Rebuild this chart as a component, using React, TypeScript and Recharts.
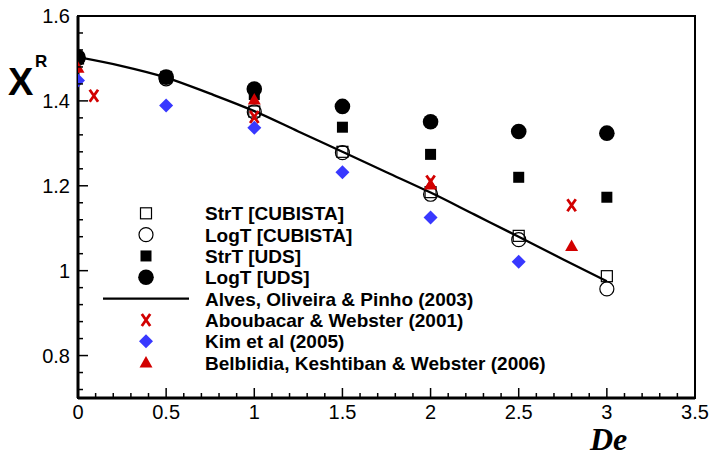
import { ComposedChart, Line, ReferenceArea, Scatter, XAxis, YAxis } from "recharts";

// Deborah numbers used by the simulations
const deValues = [0, 0.5, 1, 1.5, 2, 2.5, 3];
const strtCubista = [1.5, 1.455, 1.375, 1.28, 1.185, 1.082, 0.987];
const logtCubista = [1.5, 1.452, 1.374, 1.278, 1.18, 1.073, 0.957];
const strtUds = [1.5, 1.458, 1.415, 1.338, 1.274, 1.22, 1.173];
const logtUds = [1.503, 1.456, 1.428, 1.387, 1.351, 1.328, 1.324];

// Alves, Oliveira & Pinho (2003)
const alvesDe = [0, 0.25, 0.5, 0.75, 1, 1.25, 1.5, 1.75, 2, 2.25, 2.5, 2.75, 3];
const alvesXr = [1.503, 1.482, 1.455, 1.417, 1.376, 1.328, 1.28, 1.232, 1.184, 1.132, 1.08, 1.027, 0.975];

// Aboubacar & Webster (2001)
const aboubacarDe = [0.09, 1, 2, 2.8];
const aboubacarXr = [1.412, 1.362, 1.21, 1.154];

// Kim et al (2005)
const kimDe = [0, 0.5, 1, 1.5, 2, 2.5];
const kimXr = [1.448, 1.389, 1.337, 1.232, 1.125, 1.021];

// Belblidia, Keshtiban & Webster (2006)
const belblidiaDe = [0, 1, 2, 2.8];
const belblidiaXr = [1.478, 1.403, 1.203, 1.058];

// minor ticks every 0.1 on De, every 0.04 on X_R; labels only on the major ones
const xTicks = Array.from({ length: 36 }, (_, i) => Math.round(i) / 10);
const yTicks = Array.from({ length: 23 }, (_, i) => Math.round((0.72 + i * 0.04) * 100) / 100);

const RED = "#d20000";
const BLUE = "#3838ff";
const FONT = "'Liberation Sans', Arial, sans-serif";

const pts = (xs: number[], ys: number[]) => xs.map((x, i) => ({ x, y: ys[i] }));

const OpenSquare = ({ cx, cy }: any) => (
  <rect x={cx - 5.5} y={cy - 5.5} width={11} height={11} fill="none" stroke="#000" strokeWidth={1.2} />
);
const OpenCircle = ({ cx, cy }: any) => (
  <circle cx={cx} cy={cy} r={7} fill="none" stroke="#000" strokeWidth={1.2} />
);
const FilledSquare = ({ cx, cy }: any) => (
  <rect x={cx - 5.5} y={cy - 5.5} width={11} height={11} fill="#000" />
);
const FilledCircle = ({ cx, cy }: any) => <circle cx={cx} cy={cy} r={7.8} fill="#000" />;
const Cross = ({ cx, cy }: any) => (
  <path
    d={`M${cx - 4.2},${cy - 6}L${cx + 4.2},${cy + 6}M${cx + 4.2},${cy - 6}L${cx - 4.2},${cy + 6}`}
    stroke={RED}
    strokeWidth={2.8}
    fill="none"
  />
);
const Diamond = ({ cx, cy }: any) => (
  <path d={`M${cx},${cy - 7}L${cx + 7},${cy}L${cx},${cy + 7}L${cx - 7},${cy}Z`} fill={BLUE} />
);
const Triangle = ({ cx, cy }: any) => (
  <path d={`M${cx},${cy - 6.5}L${cx + 6.5},${cy + 5}L${cx - 6.5},${cy + 5}Z`} fill={RED} />
);

const isMultiple = (v: number, step: number) => Math.abs(v / step - Math.round(v / step)) < 1e-6;

const XTick = ({ x, y, payload }: any) => {
  const major = isMultiple(payload.value, 0.5);
  return (
    <g>
      <line x1={x} y1={y} x2={x} y2={y - (major ? 10 : 5)} stroke="#000" strokeWidth={1.5} />
      {major && (
        <text x={x} y={y + 21} textAnchor="middle" fontFamily={FONT} fontSize={20} fill="#000">
          {String(payload.value)}
        </text>
      )}
    </g>
  );
};

const YTick = ({ x, y, payload }: any) => {
  const major = isMultiple(payload.value, 0.2);
  return (
    <g>
      <line x1={x} y1={y} x2={x + (major ? 10 : 5)} y2={y} stroke="#000" strokeWidth={1.5} />
      {major && (
        <text x={x - 8} y={y + 7} textAnchor="end" fontFamily={FONT} fontSize={20} fill="#000">
          {String(payload.value)}
        </text>
      )}
    </g>
  );
};

const legendItems: { label: string; mark: (cx: number, cy: number) => any }[] = [
  { label: "StrT [CUBISTA]", mark: (cx, cy) => <OpenSquare cx={cx} cy={cy} /> },
  { label: "LogT [CUBISTA]", mark: (cx, cy) => <OpenCircle cx={cx} cy={cy} /> },
  { label: "StrT [UDS]", mark: (cx, cy) => <FilledSquare cx={cx} cy={cy} /> },
  { label: "LogT [UDS]", mark: (cx, cy) => <FilledCircle cx={cx} cy={cy} /> },
  {
    label: "Alves, Oliveira & Pinho (2003)",
    mark: (cx, cy) => <line x1={cx - 43} y1={cy} x2={cx + 43} y2={cy} stroke="#000" strokeWidth={2.3} />,
  },
  { label: "Aboubacar & Webster (2001)", mark: (cx, cy) => <Cross cx={cx} cy={cy} /> },
  { label: "Kim et al (2005)", mark: (cx, cy) => <Diamond cx={cx} cy={cy} /> },
  { label: "Belblidia, Keshtiban & Webster (2006)", mark: (cx, cy) => <Triangle cx={cx} cy={cy} /> },
];

export default function App() {
  return (
    <div style={{ position: "absolute", left: 0, top: 0, width: 713, height: 458, background: "#fff" }}>
      <ComposedChart width={713} height={458} margin={{ top: 16, right: 18, bottom: 0, left: 0 }}>
        <ReferenceArea x1={0} x2={3.5} y1={0.7} y2={1.6} fill="none" stroke="#000" strokeWidth={2} />
        <XAxis
          type="number"
          dataKey="x"
          domain={[0, 3.5]}
          ticks={xTicks}
          interval={0}
          tickSize={0}
          tickMargin={0}
          tickLine={false}
          tick={<XTick />}
          axisLine={{ stroke: "#000", strokeWidth: 3 }}
          height={60}
          allowDataOverflow
        />
        <YAxis
          type="number"
          dataKey="y"
          domain={[0.7, 1.6]}
          ticks={yTicks}
          interval={0}
          tickSize={0}
          tickMargin={0}
          tickLine={false}
          tick={<YTick />}
          axisLine={{ stroke: "#000", strokeWidth: 3 }}
          width={78}
          allowDataOverflow
        />
        <Line
          data={pts(alvesDe, alvesXr)}
          dataKey="y"
          type="monotone"
          stroke="#000"
          strokeWidth={2.3}
          dot={false}
          isAnimationActive={false}
        />
        <Scatter data={pts(deValues, strtCubista)} dataKey="y" shape={(p: any) => <OpenSquare cx={p.cx} cy={p.cy} />} isAnimationActive={false} />
        <Scatter data={pts(deValues, logtCubista)} dataKey="y" shape={(p: any) => <OpenCircle cx={p.cx} cy={p.cy} />} isAnimationActive={false} />
        <Scatter data={pts(deValues, strtUds)} dataKey="y" shape={(p: any) => <FilledSquare cx={p.cx} cy={p.cy} />} isAnimationActive={false} />
        <Scatter data={pts(deValues, logtUds)} dataKey="y" shape={(p: any) => <FilledCircle cx={p.cx} cy={p.cy} />} isAnimationActive={false} />
        <Scatter data={pts(aboubacarDe, aboubacarXr)} dataKey="y" shape={(p: any) => <Cross cx={p.cx} cy={p.cy} />} isAnimationActive={false} />
        <Scatter data={pts(kimDe, kimXr)} dataKey="y" shape={(p: any) => <Diamond cx={p.cx} cy={p.cy} />} isAnimationActive={false} />
        <Scatter data={pts(belblidiaDe, belblidiaXr)} dataKey="y" shape={(p: any) => <Triangle cx={p.cx} cy={p.cy} />} isAnimationActive={false} />
      </ComposedChart>
      <svg width={713} height={458} style={{ position: "absolute", left: 0, top: 0, pointerEvents: "none" }}>
        {/* axis titles */}
        <text x={8} y={95} fontFamily={FONT} fontWeight="bold" fontSize={38}>X</text>
        <text x={35} y={67} fontFamily={FONT} fontWeight="bold" fontSize={17}>R</text>
        <text
          x={590}
          y={450}
          fontFamily="'Liberation Serif', 'Times New Roman', serif"
          fontWeight="bold"
          fontStyle="italic"
          fontSize={32}
        >
          De
        </text>
        {/* legend */}
        {legendItems.map((item, i) => {
          const cy = 213.3 + i * 21.33;
          return (
            <g key={item.label}>
              {item.mark(146, cy)}
              <text x={205} y={cy + 7} fontFamily={FONT} fontWeight="bold" fontSize={19}>
                {item.label}
              </text>
            </g>
          );
        })}
      </svg>
    </div>
  );
}
